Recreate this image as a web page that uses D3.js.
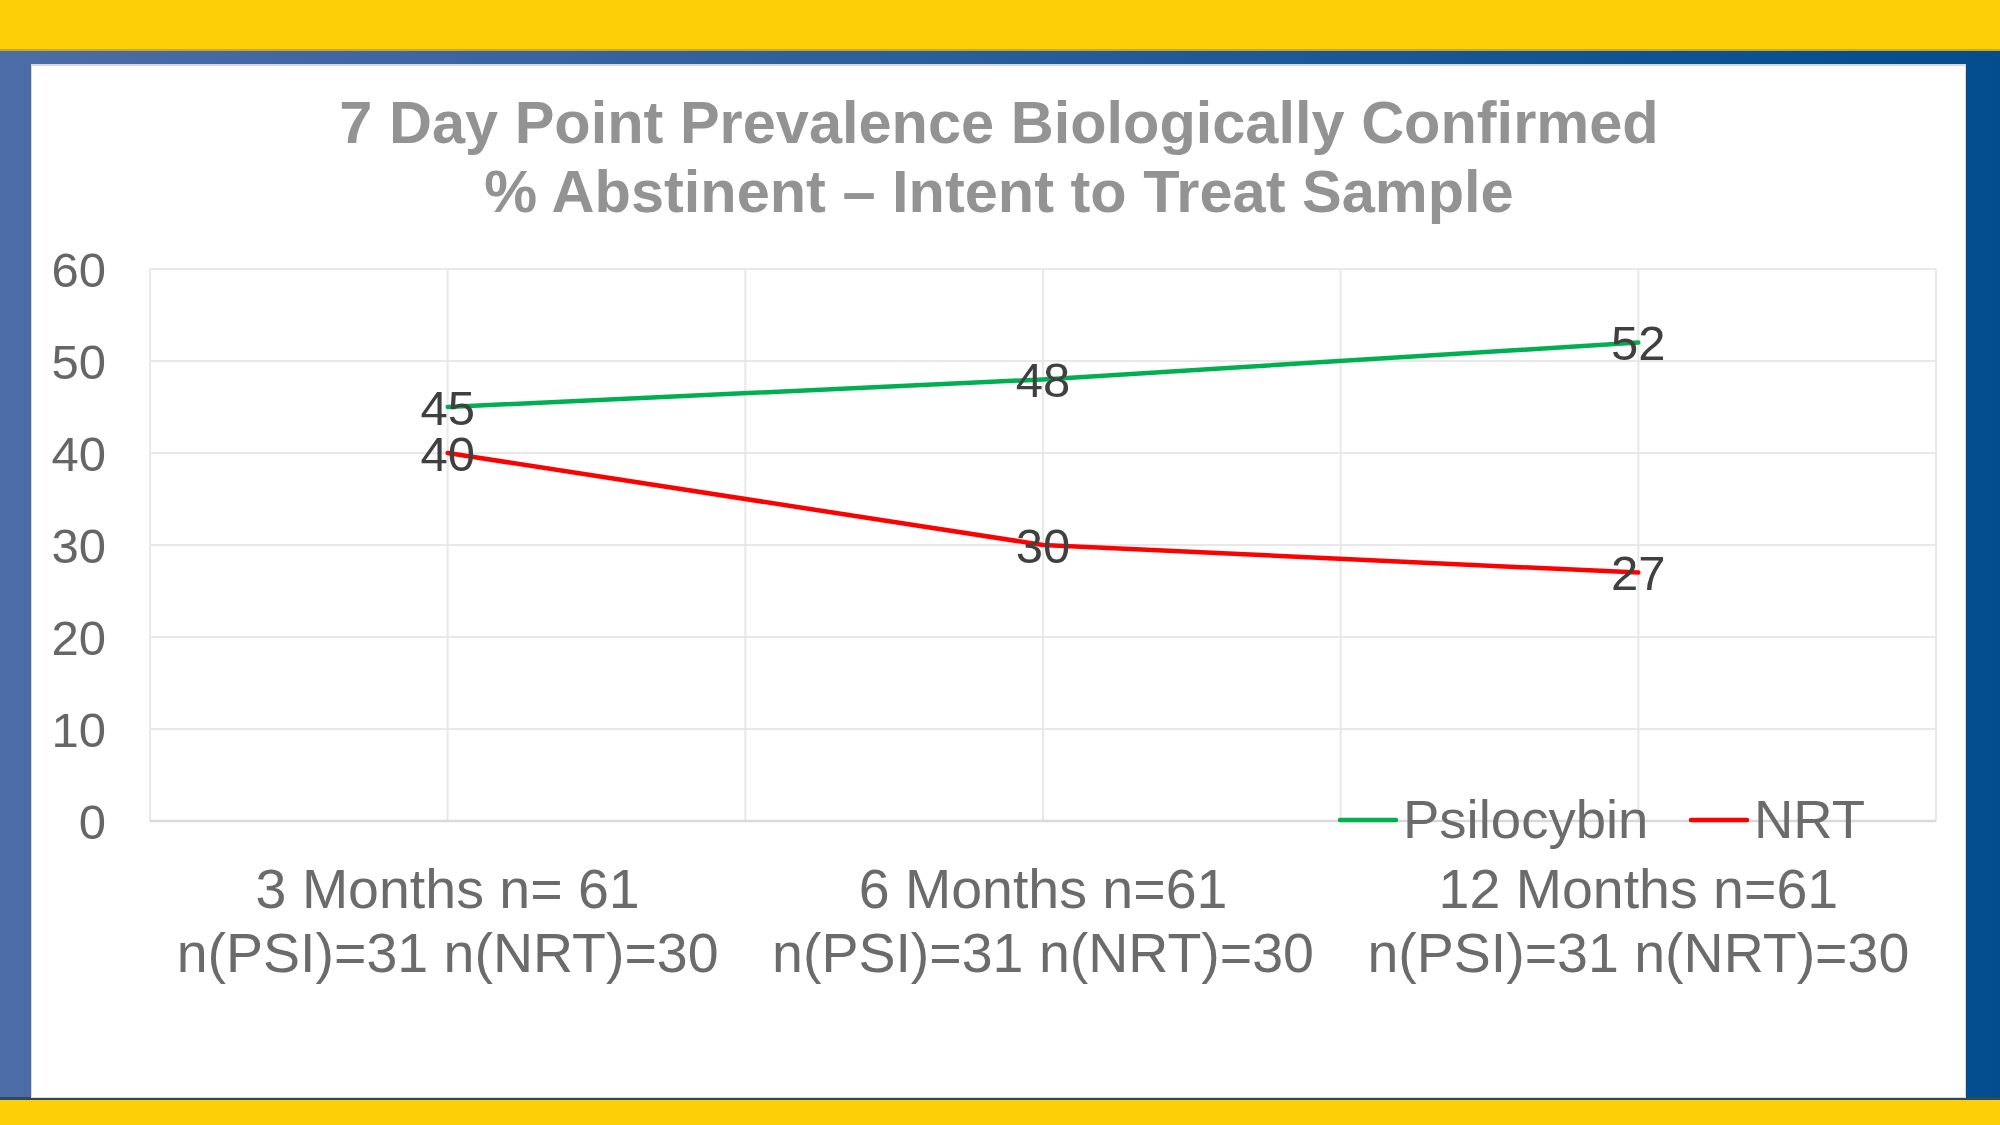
<html>
<head>
<script src="https://d3js.org/d3.v7.min.js"></script>
<style>
body { margin: 0; background: #fff; }
svg { display: block; font-family: "Liberation Sans", Arial, sans-serif; }
</style>
</head>
<body>
<div id="chart"></div>
<script>
var width = 2000, height = 1125;

// data
var categories = ["3 Months n= 61", "6 Months n=61", "12 Months n=61"];
var subLabels = ["n(PSI)=31 n(NRT)=30", "n(PSI)=31 n(NRT)=30", "n(PSI)=31 n(NRT)=30"];
var psilocybin = [45, 48, 52];
var nrt = [40, 30, 27];
var seriesNames = ["Psilocybin", "NRT"];
var seriesColors = ["#00b050", "#ff0000"];
var yTicks = [0, 10, 20, 30, 40, 50, 60];
var titleLines = ["7 Day Point Prevalence Biologically Confirmed", "% Abstinent \u2013 Intent to Treat Sample"];

var series = [
  { name: seriesNames[0], color: seriesColors[0], values: psilocybin },
  { name: seriesNames[1], color: seriesColors[1], values: nrt }
];

var svg = d3.select("#chart").append("svg").attr("width", width).attr("height", height);

// frame: yellow bands, blue gradient border, white panel
var defs = svg.append("defs");
var grad = defs.append("linearGradient").attr("id", "blueGrad")
  .attr("x1", "0%").attr("x2", "100%").attr("y1", "0%").attr("y2", "0%");
grad.append("stop").attr("offset", "0%").attr("stop-color", "#4c6ca7");
grad.append("stop").attr("offset", "100%").attr("stop-color", "#034d8f");

svg.append("rect").attr("x", 0).attr("y", 0).attr("width", width).attr("height", height).attr("fill", "url(#blueGrad)");
svg.append("rect").attr("x", 0).attr("y", 0).attr("width", width).attr("height", 50).attr("fill", "#fdcf06");
svg.append("rect").attr("x", 0).attr("y", 49).attr("width", width).attr("height", 2).attr("fill", "#c9a92a");
svg.append("rect").attr("x", 0).attr("y", 1099).attr("width", width).attr("height", 26).attr("fill", "#fdcf06");
svg.append("rect").attr("x", 0).attr("y", 1097).attr("width", width).attr("height", 3).attr("fill", "#2d4a5e");
svg.append("rect").attr("x", 31).attr("y", 64).attr("width", 1935).attr("height", 1034).attr("fill", "#d8d8d8");
svg.append("rect").attr("x", 32).attr("y", 66).attr("width", 1933).attr("height", 1031).attr("fill", "#ffffff");

// scales
var x = d3.scaleBand().domain(categories).range([150, 1936]);
var y = d3.scaleLinear().domain([0, 60]).range([821, 269]);
var cx = function(i) { return x(categories[i]) + x.bandwidth() / 2; };

// horizontal gridlines
svg.append("g").selectAll("line").data(yTicks.filter(function(t) { return t > 0; }))
  .enter().append("line")
  .attr("x1", 150).attr("x2", 1936)
  .attr("y1", function(d) { return y(d); }).attr("y2", function(d) { return y(d); })
  .attr("stroke", "#e8e8e8").attr("stroke-width", 2);

// vertical gridlines at category edges and centres
var vlines = [];
categories.forEach(function(c) { vlines.push(x(c)); vlines.push(x(c) + x.bandwidth() / 2); });
vlines.push(x.range()[1]);
svg.append("g").selectAll("line").data(vlines)
  .enter().append("line")
  .attr("x1", function(d) { return d; }).attr("x2", function(d) { return d; })
  .attr("y1", y(60)).attr("y2", y(0))
  .attr("stroke", "#e8e8e8").attr("stroke-width", 2);

// baseline
svg.append("line").attr("x1", 150).attr("x2", 1936).attr("y1", y(0)).attr("y2", y(0))
  .attr("stroke", "#d9d9d9").attr("stroke-width", 2.5);

// y tick labels
svg.append("g").selectAll("text").data(yTicks)
  .enter().append("text")
  .attr("x", 106).attr("y", function(d) { return y(d); })
  .attr("dy", "0.36em")
  .attr("text-anchor", "end")
  .attr("font-size", 49).attr("fill", "#666666")
  .text(function(d) { return d; });

// x category labels
var xl = svg.append("g").selectAll("text").data(categories)
  .enter().append("text")
  .attr("text-anchor", "middle")
  .attr("font-size", 55.5).attr("fill", "#6b6b6b");
xl.append("tspan").attr("x", function(d, i) { return cx(i); }).attr("y", 908).text(function(d) { return d; });
xl.append("tspan").attr("x", function(d, i) { return cx(i); }).attr("y", 972).text(function(d, i) { return subLabels[i]; });

// lines
var line = d3.line().x(function(d, i) { return cx(i); }).y(function(d) { return y(d); });
svg.append("g").selectAll("path").data(series)
  .enter().append("path")
  .attr("d", function(d) { return line(d.values); })
  .attr("fill", "none")
  .attr("stroke", function(d) { return d.color; })
  .attr("stroke-width", 4.5)
  .attr("stroke-linejoin", "round").attr("stroke-linecap", "round");

// data labels, centred on the points
series.forEach(function(s) {
  svg.append("g").selectAll("text").data(s.values)
    .enter().append("text")
    .attr("x", function(d, i) { return cx(i); })
    .attr("y", function(d) { return y(d); })
    .attr("dy", "0.36em")
    .attr("text-anchor", "middle")
    .attr("font-size", 49).attr("fill", "#404040")
    .text(function(d) { return d; });
});

// legend
var legendX = [1340, 1691];
var lg = svg.append("g").selectAll("g").data(series).enter().append("g")
  .attr("transform", function(d, i) { return "translate(" + legendX[i] + ",820)"; });
lg.append("line").attr("x1", 0).attr("x2", 56).attr("y1", 0).attr("y2", 0)
  .attr("stroke", function(d) { return d.color; }).attr("stroke-width", 4.5).attr("stroke-linecap", "round");
lg.append("text").attr("x", 63).attr("y", 18)
  .attr("font-size", 54.5).attr("fill", "#6b6b6b")
  .text(function(d) { return d.name; });

// title
svg.append("g").selectAll("text").data(titleLines)
  .enter().append("text")
  .attr("x", 999).attr("y", function(d, i) { return 143 + i * 69; })
  .attr("text-anchor", "middle")
  .attr("font-size", 59.5).attr("font-weight", "bold").attr("fill", "#939393")
  .text(function(d) { return d; });
</script>
</body>
</html>
